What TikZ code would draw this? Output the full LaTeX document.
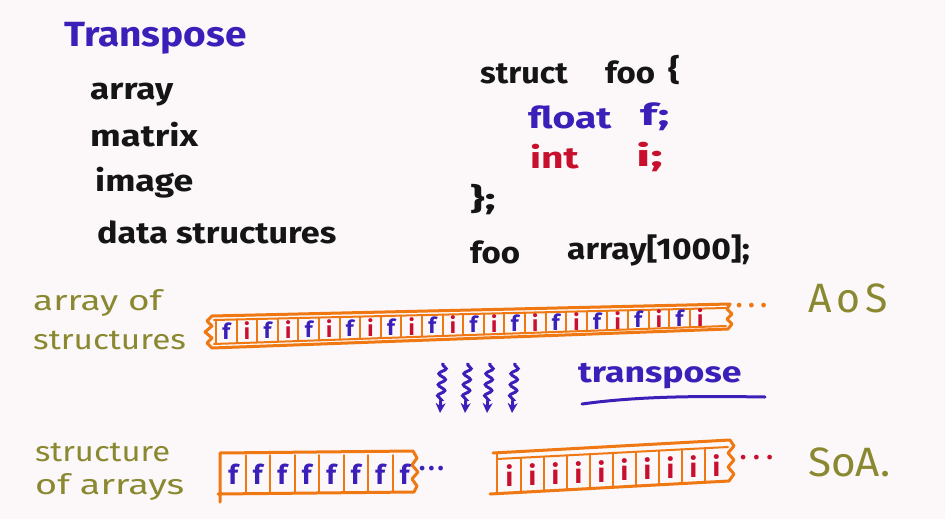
\documentclass[tikz,border=0pt]{standalone}
\usepackage{fontspec}
\usepackage{graphicx}
\setmainfont{Fira Sans}
\usetikzlibrary{decorations.pathmorphing,arrows.meta}
\definecolor{bg}{HTML}{FCF8FA}
\definecolor{ink}{HTML}{151515}
\definecolor{pen}{HTML}{3A20B8}
\definecolor{redpen}{HTML}{C8102E}
\definecolor{olive}{HTML}{8A8830}
\definecolor{orng}{HTML}{F07812}
\newcommand{\wx}[2]{\scalebox{#1}[1]{#2}}
\newcommand{\spdots}[1]{.\hspace{#1}.\hspace{#1}.}
\tikzset{
  txt/.style={anchor=west, inner sep=0pt, font=\fontsize{30}{32}\selectfont\bfseries, text=ink},
  oliv/.style={txt, text=olive, font=\fontsize{28}{30}\selectfont},
  big/.style={txt, text=olive, font=\fontsize{41}{44}\selectfont},
  cellf/.style={inner sep=0pt, text=pen, font=\fontsize{22}{22}\selectfont\bfseries},
  celli/.style={inner sep=0pt, text=redpen, font=\fontsize{22}{22}\selectfont\bfseries},
  dots/.style={anchor=west, inner sep=0pt, text=orng, font=\fontsize{26}{26}\selectfont\bfseries},
  strip/.style={draw=orng, line width=3pt, line join=round, line cap=round},
  divider/.style={draw=orng, line width=2pt, line cap=round},
  wavy/.style={draw=pen, line width=3pt, decorate,
    decoration={snake, amplitude=3.5pt, segment length=11pt, post length=9pt, pre length=2pt},
    -{Stealth[length=10pt,width=10pt]}},
}
\begin{document}
\begin{tikzpicture}[x=1pt,y=-1pt]
\useasboundingbox[fill=bg] (0,0) rectangle (945,519);

% left list
\node[txt, text=pen, font=\fontsize{35}{38}\selectfont\bfseries] (title) at (64,38) {\wx{1.11}{Transpose}};
\node[txt] (l1) at (90,95) {\wx{1.17}{array}};
\node[txt] (l2) at (90,135) {\wx{1.21}{matrix}};
\node[txt] (l3) at (95,183) {\wx{1.19}{image}};
\node[txt] (l4) at (97,232) {\wx{1.14}{data structures}};

% code
\node[txt] (c1) at (480,74) {\wx{1.08}{struct}};
\node[txt] (c1b) at (605,72) {\wx{1.1}{foo}};
\node[txt] (c1c) at (668,70) {\wx{1.2}{\{}};
\node[txt, text=pen] (c2) at (528,117) {\wx{1.3}{float}};
\node[txt, text=pen] (c2b) at (640,117) {\wx{1.6}{f;}};
\node[txt, text=redpen] (c3) at (530,157) {\wx{1.3}{int}};
\node[txt, text=redpen] (c3b) at (636,157) {\wx{1.7}{i;}};
\node[txt] (c4) at (470,200) {\wx{1.5}{\};}};
\node[txt] (c5) at (470,252) {\wx{1.1}{foo}};
\node[txt] (c5b) at (567,250) {\wx{1.12}{array[1000];}};

% AoS labels
\node[oliv] (aosl1) at (33,303) {\wx{1.32}{array of}};
\node[oliv] (aosl2) at (33,340) {\wx{1.19}{structures}};
\node[big] (aos) at (808,298) {A\hspace{5pt}o\hspace{5pt}S};

% AoS strip
\draw[strip] (730,304) -- (212,316) -- (207,321) -- (212,326) -- (205,332) -- (212,338) -- (207,343) -- (212,348) -- (728,329)
  -- (732,324) -- (727,319) -- (732,314) -- (727,309) -- cycle;
\draw[divider] (214,320) -- (726,308);
\draw[divider] (214,344) -- (726,326);
\foreach \k in {0,...,23} {
  \pgfmathsetmacro\xa{216+\k*20.6}
  \pgfmathsetmacro\xm{\xa+10.3}
  \pgfmathsetmacro\ym{332-(\xm-214)*15/512}
  \pgfmathsetmacro\yt{320-(\xa-214)*12/512}
  \pgfmathsetmacro\yb{344-(\xa-214)*18/512}
  \draw[divider] (\xa,\yt) -- (\xa,\yb);
  \pgfmathparse{mod(\k,2)==0 ? 1 : 0}
  \ifnum\pgfmathresult=1
    \node[cellf] (a\k) at (\xm,\ym) {f};
  \else
    \node[celli] (a\k) at (\xm,\ym) {i};
  \fi
}
\node[dots] (aosdots) at (736,306) {\spdots{6pt}};

% transpose arrows
\foreach \i/\x in {1/443,2/468,3/490,4/515} {
  \coordinate (ws\i) at (\x,363);
  \coordinate (we\i) at (\x-3,413);
  \draw[wavy] (ws\i) -- (we\i);
}
\node[txt, text=pen, font=\fontsize{29}{30}\selectfont\bfseries] (tr) at (578,376) {\wx{1.23}{transpose}};
\coordinate (u1) at (582,404);
\coordinate (u2) at (765,397);
\draw[pen, line width=3pt, line cap=round] (u1) .. controls (640,396) and (700,396) .. (u2);

% SoA labels
\node[oliv] (soal1) at (35,452) {\wx{1.17}{structure}};
\node[oliv] (soal2) at (35,487) {\wx{1.35}{of arrays}};
\node[big] (soa) at (808,462) {\wx{1.03}{SoA.}};

% f strip
\draw[strip] (220,502) -- (220,453) -- (413,451) -- (417,458) -- (412,465) -- (418,472) -- (412,479) -- (417,486) -- (414,492) -- (218,494);
\foreach \k in {0,...,7} {
  \pgfmathsetmacro\xa{221+\k*24.5}
  \pgfmathsetmacro\xm{\xa+12.25}
  \ifnum\k>0 \draw[divider] (\xa,455) -- (\xa,492); \fi
  \node[cellf, font=\fontsize{27}{27}\selectfont\bfseries] (s\k) at (\xm,474) {f};
}
\node[dots, text=pen] (fdots) at (419,469) {\spdots{3pt}};

% i strip
\draw[strip] (493,453) -- (730,440) -- (734,446) -- (728,453) -- (734,460) -- (728,467) -- (734,474) -- (729,481) -- (490,494);
\draw[divider] (497,459) -- (728,447);
\draw[divider] (497,453) -- (497,494);
\foreach \k in {0,...,9} {
  \pgfmathsetmacro\xa{498+\k*23}
  \pgfmathsetmacro\xm{\xa+11.5}
  \pgfmathsetmacro\yt{459-(\xa-497)*12/231}
  \pgfmathsetmacro\yb{493-(\xa-497)*12/231}
  \pgfmathsetmacro\ym{(\yt+\yb)/2}
  \ifnum\k>0 \draw[divider] (\xa,\yt) -- (\xa,\yb); \fi
  \node[celli, font=\fontsize{27}{27}\selectfont\bfseries] (t\k) at (\xm,\ym) {i};
}
\node[dots, text=redpen] (idots) at (740,458) {\spdots{7pt}};
\end{tikzpicture}
\end{document}
